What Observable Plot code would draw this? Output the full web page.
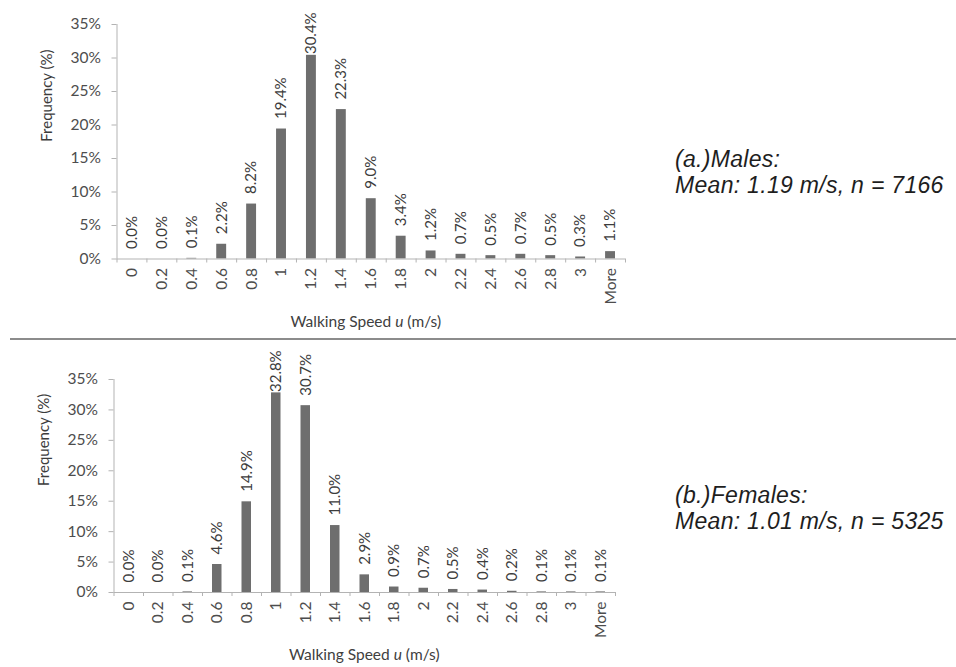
<!DOCTYPE html>
<html>
<head>
<meta charset="utf-8">
<script src="https://cdn.jsdelivr.net/npm/d3@7"></script>
<script src="https://cdn.jsdelivr.net/npm/@observablehq/plot@0.6"></script>
<style>
  body { margin: 0; background: #fff; }
  #page { position: relative; width: 956px; height: 667px; overflow: hidden; background: #fff; }
  .panel { position: absolute; left: 0; }
  .note {
    position: absolute; left: 675px;
    font-family: "Liberation Sans", Arial, sans-serif; font-style: italic;
    font-size: 23px; letter-spacing: 0.3px; line-height: 26px;
    color: #1e1e1e; white-space: nowrap;
  }
  .xtitle {
    position: absolute; font-family: Lato, sans-serif; font-size: 15.5px; line-height: 18px;
    color: #404040; white-space: nowrap; transform: translateX(-50%);
  }
  #divider { position: absolute; left: 10px; top: 338px; width: 946px; height: 2px; background: #8c8c8c; }
</style>
</head>
<body>
<div id="page"></div>
<script>
// Walking-speed bins (m/s) and share of pedestrians in each bin (%)
const speedBins = ["0", "0.2", "0.4", "0.6", "0.8", "1", "1.2", "1.4", "1.6", "1.8", "2", "2.2", "2.4", "2.6", "2.8", "3", "More"];
const maleShare   = [0.0, 0.0, 0.1, 2.2, 8.2, 19.4, 30.4, 22.3, 9.0, 3.4, 1.2, 0.7, 0.5, 0.7, 0.5, 0.3, 1.1];
const femaleShare = [0.0, 0.0, 0.1, 4.6, 14.9, 32.8, 30.7, 11.0, 2.9, 0.9, 0.7, 0.5, 0.4, 0.2, 0.1, 0.1, 0.1];
const yTicks = [0, 5, 10, 15, 20, 25, 30, 35];
const yMax = 35;

const maleNote = ["(a.)Males:", "Mean: 1.19 m/s, n = 7166"];
const femaleNote = ["(b.)Females:", "Mean: 1.01 m/s, n = 5325"];

const axisGrey = "#b3b3b3";
const tickText = "#4d4d4d";
const labelText = "#3c3c3c";
const barFill = "#6e6e6e";

const page = document.getElementById("page");

function histogram(values, o) {
  const data = speedBins.map((bin, i) => ({i, bin, v: values[i]}));
  const n = speedBins.length;
  const fmt = d3.format(".1f");
  const svg = Plot.plot({
    width: 956,
    height: o.height,
    marginTop: o.marginTop,
    marginBottom: o.marginBottom,
    marginLeft: o.marginLeft,
    marginRight: o.marginRight,
    style: {fontFamily: "Lato, sans-serif", fontSize: "15px", background: "transparent", overflow: "visible"},
    x: {domain: [0, n], axis: null},
    y: {domain: [0, yMax], axis: null},
    marks: [
      Plot.ruleX([0], {stroke: axisGrey}),
      Plot.axisY({ticks: yTicks, tickSize: 5, tickPadding: 11, tickFormat: d => d + "%",
                  stroke: axisGrey, fill: tickText, fontSize: 15.5, label: null}),
      // category boundaries on the baseline
      Plot.axisX({ticks: d3.range(n + 1), tickSize: 4, tickFormat: () => "",
                  stroke: axisGrey, label: null}),
      // bin names centred under each bar
      Plot.axisX({ticks: d3.range(n).map(i => i + 0.5), tickFormat: t => speedBins[Math.floor(t)],
                  tickRotate: -90, tickSize: 0, tickPadding: 9, fill: tickText, fontSize: 15.5, label: null}),
      Plot.rectY(data, {x1: "i", x2: d => d.i + 1, y: "v", insetLeft: 10, insetRight: 10, fill: barFill}),
      Plot.ruleY([0], {stroke: axisGrey}),
      // value labels above the bars, kept inside the chart area
      Plot.text(data, {x: d => d.i + 0.5, y: d => Math.min(d.v, o.labelCeiling),
                       text: d => fmt(d.v) + "%", rotate: -90, textAnchor: "start",
                       dy: -10, fill: labelText, fontSize: 15}),
      Plot.text(["Frequency (%)"], {text: d => d, frameAnchor: "left", rotate: -90, dx: -70,
                                     fill: labelText, fontSize: 15})
    ]
  });
  svg.classList.add("panel");
  svg.style.top = o.top + "px";
  page.appendChild(svg);

  // x-axis title with italic symbol
  const t = document.createElement("div");
  t.className = "xtitle";
  t.innerHTML = "Walking Speed <i>u</i> (m/s)";
  t.style.left = ((o.marginLeft + 956 - o.marginRight) / 2 + (o.titleDx || 0)) + "px";
  t.style.top = o.titleTop + "px";
  page.appendChild(t);

  const note = document.createElement("div");
  note.className = "note";
  note.style.top = o.noteTop + "px";
  note.innerHTML = o.note.join("<br>");
  page.appendChild(note);
}

histogram(maleShare, {
  top: 0, height: 338, marginTop: 24, marginBottom: 79.5, marginLeft: 116.5, marginRight: 331,
  labelCeiling: 29.1, titleTop: 312, titleDx: -5, note: maleNote, noteTop: 146
});

const divider = document.createElement("div");
divider.id = "divider";
page.appendChild(divider);

histogram(femaleShare, {
  top: 341, height: 326, marginTop: 38, marginBottom: 75, marginLeft: 113.5, marginRight: 341,
  labelCeiling: 31.3, titleTop: 645, note: femaleNote, noteTop: 482
});
</script>
</body>
</html>
